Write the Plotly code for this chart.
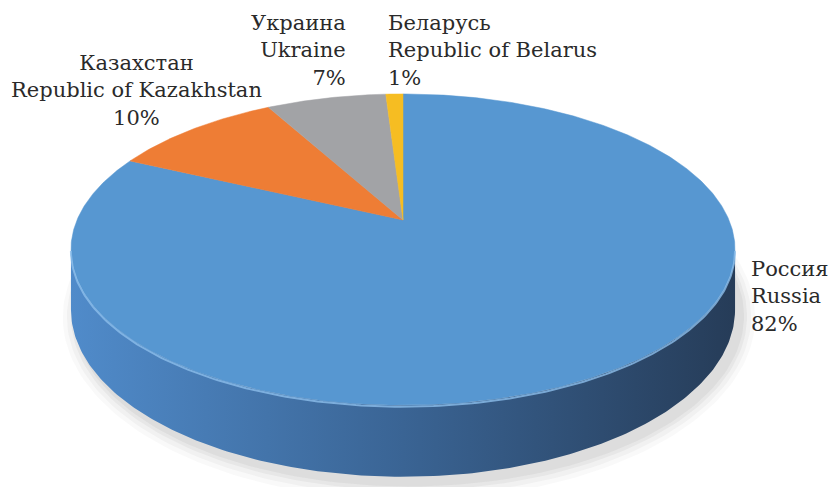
import numpy as np
import plotly.graph_objects as go

# ---- data ----
names_ru = ["Россия", "Казахстан", "Украина", "Беларусь"]
names_en = ["Russia", "Republic of Kazakhstan", "Ukraine", "Republic of Belarus"]
values = [82, 10, 7, 1]
colors = ["#5797d1", "#ee7d35", "#a2a3a6", "#f6bd22"]

# ---- geometry (style/layout) ----
W, H = 835, 487
CX, CY = 403, 220      # projected centre of the pie
A, B, K = 326, 150, 0.19  # perspective ellipse params
D = 58                 # thickness

def proj(theta_deg, drop=0.0):
    t = np.radians(theta_deg)
    X, Z = np.sin(t), np.cos(t)
    den = 1 + K * Z
    return CX + A * X / den, CY - B * Z / den + drop / den

fig = go.Figure()

def poly(xs, ys, fill, line=None, lw=0, grad=None):
    kw = {}
    if grad is not None:
        kw["fillgradient"] = grad
    fig.add_trace(go.Scatter(
        x=list(xs), y=list(ys), mode="lines", fill="toself", fillcolor=fill,
        line=dict(width=lw, color=line or fill), hoverinfo="skip",
        showlegend=False, **kw))

# soft shadow
full = np.linspace(0, 360, 241)
for g, a in [(14, 0.03), (10, 0.04), (6, 0.05), (3, 0.06)]:
    bx, by = proj(full, D)
    cxm, cym = np.mean(bx), np.mean(by)
    sx = cxm + (bx - cxm) * (1 + g / 330) + 6
    sy = cym + (by - cym) * (1 + g / 150) + 6
    poly(sx, sy, f"rgba(60,60,60,{a})")

# slice angles (clockwise from 12 o'clock)
total = sum(values)
starts, ends = [], []
acc = 0.0
for v in values:
    starts.append(acc)
    acc += v / total * 360
    ends.append(acc)

# visible side range
sil = np.degrees(np.arccos(-K))
vis_lo, vis_hi = sil, 360 - sil

side_scale = [[0.0, "rgb(80,139,202)"], [0.5, "rgb(58,100,148)"],
              [1.0, "rgb(38,60,88)"]]

for s, e in zip(starts, ends):
    lo, hi = max(s, vis_lo), min(e, vis_hi)
    if hi <= lo:
        continue
    th = np.linspace(lo, hi, 200)
    tx, ty = proj(th)
    bx, by = proj(th[::-1], D)
    xs = np.concatenate([tx, bx, tx[:1]])
    ys = np.concatenate([ty, by, ty[:1]])
    poly(xs, ys, "rgb(58,100,148)", "rgba(0,0,0,0)", 0,
         grad=dict(type="horizontal", colorscale=side_scale))

# top faces
for s, e, c in zip(starts, ends, colors):
    th = np.linspace(s, e, max(3, int(e - s) * 2))
    ax, ay = proj(th)
    xs = np.concatenate([[CX], ax, [CX]])
    ys = np.concatenate([[CY], ay, [CY]])
    poly(xs, ys, c, c, 0.5)

# light bevel along the front rim
th = np.linspace(vis_lo, vis_hi, 200)
rx, ry = proj(th)
fig.add_trace(go.Scatter(x=rx, y=ry + 1.5, mode="lines",
                         line=dict(color="rgba(140,190,235,0.8)", width=2),
                         hoverinfo="skip", showlegend=False))

# labels
label_pos = [
    dict(x=749, y=296, xanchor="left", align="left"),
    dict(x=136, y=90, xanchor="center", align="center"),
    dict(x=348, y=50, xanchor="right", align="right"),
    dict(x=386, y=50, xanchor="left", align="left"),
]
for ru, en, v, p in zip(names_ru, names_en, values, label_pos):
    pct = round(v / total * 100)
    fig.add_annotation(x=p["x"], y=p["y"], xref="x", yref="y",
                       text=f"{ru}<br>{en}<br>{pct}%", showarrow=False,
                       xanchor=p["xanchor"], yanchor="middle", align=p["align"],
                       font=dict(family="DejaVu Serif", size=21, color="#2a2a2a"))

fig.update_layout(
    width=W, height=H, margin=dict(l=0, r=0, t=0, b=0),
    paper_bgcolor="white", plot_bgcolor="white",
    xaxis=dict(range=[0, W], visible=False, fixedrange=True),
    yaxis=dict(range=[H, 0], visible=False, fixedrange=True),
)
fig.write_html("out.html")
